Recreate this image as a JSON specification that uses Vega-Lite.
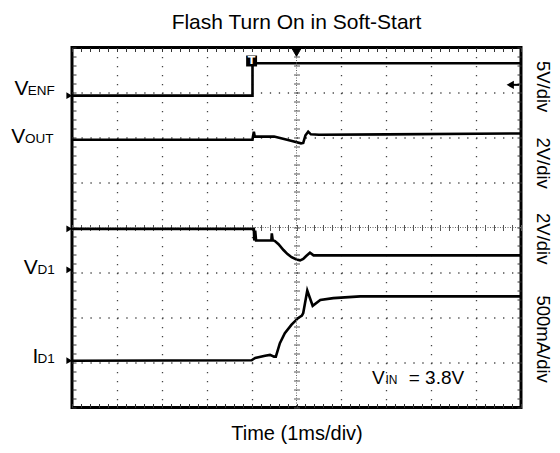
{
  "$schema": "https://vega.github.io/schema/vega-lite/v6.json",
  "width": 449,
  "height": 360,
  "autosize": {"type": "none"},
  "padding": {"left": 72, "top": 47.5, "right": 39, "bottom": 45.5},
  "background": "white",
  "title": {"text": "Flash Turn On in Soft-Start", "fontSize": 21, "font": "Liberation Sans", "fontWeight": "normal", "offset": 12, "color": "black"},
  "config": {"view": {"stroke": "black", "strokeWidth": 3}, "font": "Liberation Sans"},
  "datasets": {
    "traces": [
      {"ch": "VENF", "i": 1, "t": 0, "v": 6.93},
      {"ch": "VENF", "i": 2, "t": 4.02, "v": 6.93},
      {"ch": "VENF", "i": 3, "t": 4.02, "v": 7.65},
      {"ch": "VENF", "i": 4, "t": 10, "v": 7.65},
      {"ch": "VOUT", "i": 1, "t": 0, "v": 5.95},
      {"ch": "VOUT", "i": 2, "t": 4.02, "v": 5.95},
      {"ch": "VOUT", "i": 3, "t": 4.03, "v": 6.02},
      {"ch": "VOUT", "i": 4, "t": 4.05, "v": 6.13},
      {"ch": "VOUT", "i": 5, "t": 4.07, "v": 6.02},
      {"ch": "VOUT", "i": 6, "t": 4.5, "v": 6.02},
      {"ch": "VOUT", "i": 7, "t": 4.7, "v": 5.97},
      {"ch": "VOUT", "i": 8, "t": 4.9, "v": 5.92},
      {"ch": "VOUT", "i": 9, "t": 5.1, "v": 5.87},
      {"ch": "VOUT", "i": 10, "t": 5.15, "v": 5.88},
      {"ch": "VOUT", "i": 11, "t": 5.2, "v": 6.05},
      {"ch": "VOUT", "i": 12, "t": 5.26, "v": 6.13},
      {"ch": "VOUT", "i": 13, "t": 5.32, "v": 6.07},
      {"ch": "VOUT", "i": 14, "t": 5.5, "v": 6.06},
      {"ch": "VOUT", "i": 15, "t": 7, "v": 6.07},
      {"ch": "VOUT", "i": 16, "t": 10, "v": 6.09},
      {"ch": "VD1", "i": 1, "t": 0, "v": 3.97},
      {"ch": "VD1", "i": 2, "t": 4.05, "v": 3.97},
      {"ch": "VD1", "i": 3, "t": 4.06, "v": 3.71},
      {"ch": "VD1", "i": 4, "t": 4.08, "v": 3.93},
      {"ch": "VD1", "i": 5, "t": 4.1, "v": 3.71},
      {"ch": "VD1", "i": 6, "t": 4.44, "v": 3.71},
      {"ch": "VD1", "i": 7, "t": 4.45, "v": 3.87},
      {"ch": "VD1", "i": 8, "t": 4.47, "v": 3.72},
      {"ch": "VD1", "i": 9, "t": 4.52, "v": 3.7},
      {"ch": "VD1", "i": 10, "t": 4.6, "v": 3.63},
      {"ch": "VD1", "i": 11, "t": 4.71, "v": 3.5},
      {"ch": "VD1", "i": 12, "t": 4.8, "v": 3.41},
      {"ch": "VD1", "i": 13, "t": 4.89, "v": 3.34},
      {"ch": "VD1", "i": 14, "t": 5.0, "v": 3.29},
      {"ch": "VD1", "i": 15, "t": 5.08, "v": 3.27},
      {"ch": "VD1", "i": 16, "t": 5.15, "v": 3.3},
      {"ch": "VD1", "i": 17, "t": 5.21, "v": 3.36},
      {"ch": "VD1", "i": 18, "t": 5.3, "v": 3.44},
      {"ch": "VD1", "i": 19, "t": 5.38, "v": 3.38},
      {"ch": "VD1", "i": 20, "t": 5.6, "v": 3.38},
      {"ch": "VD1", "i": 21, "t": 10, "v": 3.38},
      {"ch": "ID1", "i": 1, "t": 0, "v": 1.04},
      {"ch": "ID1", "i": 2, "t": 4.0, "v": 1.05},
      {"ch": "ID1", "i": 3, "t": 4.08, "v": 1.1},
      {"ch": "ID1", "i": 4, "t": 4.3, "v": 1.15},
      {"ch": "ID1", "i": 5, "t": 4.41, "v": 1.17},
      {"ch": "ID1", "i": 6, "t": 4.5, "v": 1.13},
      {"ch": "ID1", "i": 7, "t": 4.54, "v": 1.13},
      {"ch": "ID1", "i": 8, "t": 4.63, "v": 1.43},
      {"ch": "ID1", "i": 9, "t": 4.74, "v": 1.65},
      {"ch": "ID1", "i": 10, "t": 4.89, "v": 1.84},
      {"ch": "ID1", "i": 11, "t": 5.04, "v": 1.99},
      {"ch": "ID1", "i": 12, "t": 5.12, "v": 2.04},
      {"ch": "ID1", "i": 13, "t": 5.15, "v": 2.1},
      {"ch": "ID1", "i": 14, "t": 5.24, "v": 2.6},
      {"ch": "ID1", "i": 15, "t": 5.36, "v": 2.26},
      {"ch": "ID1", "i": 16, "t": 5.53, "v": 2.39},
      {"ch": "ID1", "i": 17, "t": 5.82, "v": 2.43},
      {"ch": "ID1", "i": 18, "t": 6.42, "v": 2.47},
      {"ch": "ID1", "i": 19, "t": 10, "v": 2.47}
    ],
    "refs": [
      {"ch": "VENF", "lvl": 6.93},
      {"ch": "VOUT", "lvl": 3.97},
      {"ch": "VD1", "lvl": 3.06},
      {"ch": "ID1", "lvl": 1.04}
    ],
    "one": [{}]
  },
  "layer": [
    {
      "data": {"name": "traces"},
      "mark": {"type": "line", "color": "black", "strokeWidth": 2.6, "interpolate": "linear"},
      "encoding": {
        "x": {"field": "t", "type": "quantitative", "scale": {"domain": [0, 10], "nice": false, "zero": false},
          "axis": {"orient": "bottom", "values": [1, 2, 3, 4, 6, 7, 8, 9], "grid": true, "gridDash": [1.3, 7.7], "gridColor": "#444", "gridWidth": 1.3, "labels": false, "ticks": false, "domain": false,
            "title": "Time (1ms/div)", "titleFontSize": 20, "titleFont": "Liberation Sans", "titleFontWeight": "normal", "titlePadding": 16, "titleColor": "black"}},
        "y": {"field": "v", "type": "quantitative", "scale": {"domain": [0, 8], "nice": false, "zero": false},
          "axis": {"orient": "left", "values": [1, 2, 3, 5, 6, 7], "grid": true, "gridDash": [1.3, 7.67], "gridColor": "#444", "gridWidth": 1.3, "labels": false, "ticks": false, "domain": false, "title": null}},
        "detail": {"field": "ch"},
        "order": {"field": "i"}
      }
    },
    {
      "data": {"name": "one"},
      "mark": {"type": "rule", "color": "#666", "strokeWidth": 1, "strokeDash": [1, 1.5]},
      "encoding": {
        "x": {"datum": 5, "axis": {"orient": "bottom", "offset": -183, "tickCount": 50, "tickSize": 6, "tickColor": "#555", "tickWidth": 1, "labels": false, "domain": false, "grid": false, "title": null}}
      }
    },
    {
      "data": {"name": "one"},
      "mark": {"type": "rule", "color": "#666", "strokeWidth": 1, "strokeDash": [1, 1.5]},
      "encoding": {
        "y": {"datum": 4, "axis": {"orient": "left", "offset": -227.5, "tickCount": 40, "tickSize": 6, "tickColor": "#555", "tickWidth": 1, "labels": false, "domain": false, "grid": false, "title": null}}
      }
    },
    {
      "data": {"name": "refs"},
      "mark": {"type": "point", "shape": "triangle-right", "filled": true, "color": "black", "size": 45, "opacity": 1},
      "encoding": {
        "x": {"datum": -0.06, "axis": {"orient": "bottom", "offset": -4, "tickCount": 50, "tickSize": 4, "tickColor": "#333", "labels": false, "domain": false, "grid": false, "title": null}},
        "y": {"field": "lvl", "type": "quantitative", "axis": {"orient": "left", "offset": -4, "tickCount": 40, "tickSize": 4, "tickColor": "#333", "labels": false, "domain": false, "grid": false, "title": null}}
      }
    },
    {
      "data": {"name": "one"},
      "mark": {"type": "rule", "strokeOpacity": 0},
      "encoding": {
        "x": {"datum": 5, "axis": {"orient": "top", "offset": -4, "tickCount": 50, "tickSize": 4, "tickColor": "#333", "labels": false, "domain": false, "grid": false, "title": null}},
        "y": {"datum": 4, "axis": {"orient": "right", "offset": -4, "tickCount": 40, "tickSize": 4, "tickColor": "#333", "labels": false, "domain": false, "grid": false, "title": null}}
      }
    },
    {
      "data": {"name": "one"},
      "mark": {"type": "point", "shape": "triangle-down", "filled": true, "fill": "black", "stroke": "black", "strokeWidth": 1, "size": 120, "opacity": 1},
      "encoding": {"x": {"datum": 5, "axis": null}, "y": {"datum": 7.91, "axis": null}}
    },
    {
      "data": {"name": "one"},
      "mark": {"type": "point", "shape": "square", "filled": true, "color": "black", "size": 120, "opacity": 1},
      "encoding": {"x": {"datum": 4.0, "axis": null}, "y": {"datum": 7.7, "axis": null}}
    },
    {
      "data": {"name": "one"},
      "mark": {"type": "text", "text": "T", "color": "white", "fontSize": 11, "fontWeight": "bold", "font": "DejaVu Sans", "baseline": "middle", "align": "center"},
      "encoding": {"x": {"datum": 4.0, "axis": null}, "y": {"datum": 7.7, "axis": null}}
    },
    {
      "data": {"name": "one"},
      "mark": {"type": "point", "shape": "triangle-left", "filled": true, "color": "black", "size": 70, "opacity": 1},
      "encoding": {"x": {"datum": 9.76, "axis": null}, "y": {"datum": 7.17, "axis": null}}
    },
    {
      "data": {"name": "one"},
      "mark": {"type": "rule", "color": "black", "strokeWidth": 2},
      "encoding": {"x": {"datum": 9.76, "axis": null}, "x2": {"datum": 9.96}, "y": {"datum": 7.17, "axis": null}}
    },
    {"data": {"name": "one"}, "mark": {"type": "text", "text": "V", "fontSize": 21, "align": "right", "baseline": "alphabetic", "color": "black"}, "encoding": {"x": {"datum": -0.968, "axis": null}, "y": {"datum": 6.95, "axis": null}}},
    {"data": {"name": "one"}, "mark": {"type": "text", "text": "ENF", "fontSize": 13.5, "align": "right", "baseline": "alphabetic", "color": "black"}, "encoding": {"x": {"datum": -0.383, "axis": null}, "y": {"datum": 6.95, "axis": null}}},
    {"data": {"name": "one"}, "mark": {"type": "text", "text": "V", "fontSize": 21, "align": "right", "baseline": "alphabetic", "color": "black"}, "encoding": {"x": {"datum": -1.04, "axis": null}, "y": {"datum": 5.88, "axis": null}}},
    {"data": {"name": "one"}, "mark": {"type": "text", "text": "OUT", "fontSize": 13.5, "align": "right", "baseline": "alphabetic", "color": "black"}, "encoding": {"x": {"datum": -0.41, "axis": null}, "y": {"datum": 5.88, "axis": null}}},
    {"data": {"name": "one"}, "mark": {"type": "text", "text": "V", "fontSize": 21, "align": "right", "baseline": "alphabetic", "color": "black"}, "encoding": {"x": {"datum": -0.763, "axis": null}, "y": {"datum": 2.97, "axis": null}}},
    {"data": {"name": "one"}, "mark": {"type": "text", "text": "D1", "fontSize": 13.5, "align": "right", "baseline": "alphabetic", "color": "black"}, "encoding": {"x": {"datum": -0.383, "axis": null}, "y": {"datum": 2.97, "axis": null}}},
    {"data": {"name": "one"}, "mark": {"type": "text", "text": "I", "fontSize": 21, "align": "right", "baseline": "alphabetic", "color": "black"}, "encoding": {"x": {"datum": -0.752, "axis": null}, "y": {"datum": 0.99, "axis": null}}},
    {"data": {"name": "one"}, "mark": {"type": "text", "text": "D1", "fontSize": 13.5, "align": "right", "baseline": "alphabetic", "color": "black"}, "encoding": {"x": {"datum": -0.383, "axis": null}, "y": {"datum": 0.99, "axis": null}}},
    {"data": {"name": "one"}, "mark": {"type": "text", "text": "5V/div", "fontSize": 18.5, "angle": 90, "align": "center", "baseline": "middle", "color": "black"}, "encoding": {"x": {"datum": 10.48, "axis": null}, "y": {"datum": 7.13, "axis": null}}},
    {"data": {"name": "one"}, "mark": {"type": "text", "text": "2V/div", "fontSize": 18.5, "angle": 90, "align": "center", "baseline": "middle", "color": "black"}, "encoding": {"x": {"datum": 10.48, "axis": null}, "y": {"datum": 5.43, "axis": null}}},
    {"data": {"name": "one"}, "mark": {"type": "text", "text": "2V/div", "fontSize": 18.5, "angle": 90, "align": "center", "baseline": "middle", "color": "black"}, "encoding": {"x": {"datum": 10.48, "axis": null}, "y": {"datum": 3.75, "axis": null}}},
    {"data": {"name": "one"}, "mark": {"type": "text", "text": "500mA/div", "fontSize": 18.5, "angle": 90, "align": "center", "baseline": "middle", "color": "black"}, "encoding": {"x": {"datum": 10.48, "axis": null}, "y": {"datum": 1.52, "axis": null}}},
    {"data": {"name": "one"}, "mark": {"type": "text", "text": "V", "fontSize": 19, "align": "left", "baseline": "alphabetic", "color": "black"}, "encoding": {"x": {"datum": 6.68, "axis": null}, "y": {"datum": 0.53, "axis": null}}},
    {"data": {"name": "one"}, "mark": {"type": "text", "text": "IN", "fontSize": 12, "align": "left", "baseline": "alphabetic", "color": "black"}, "encoding": {"x": {"datum": 6.98, "axis": null}, "y": {"datum": 0.53, "axis": null}}},
    {"data": {"name": "one"}, "mark": {"type": "text", "text": "= 3.8V", "fontSize": 19, "align": "left", "baseline": "alphabetic", "color": "black"}, "encoding": {"x": {"datum": 7.5, "axis": null}, "y": {"datum": 0.53, "axis": null}}}
  ],
  "resolve": {"axis": {"x": "independent", "y": "independent"}}
}
